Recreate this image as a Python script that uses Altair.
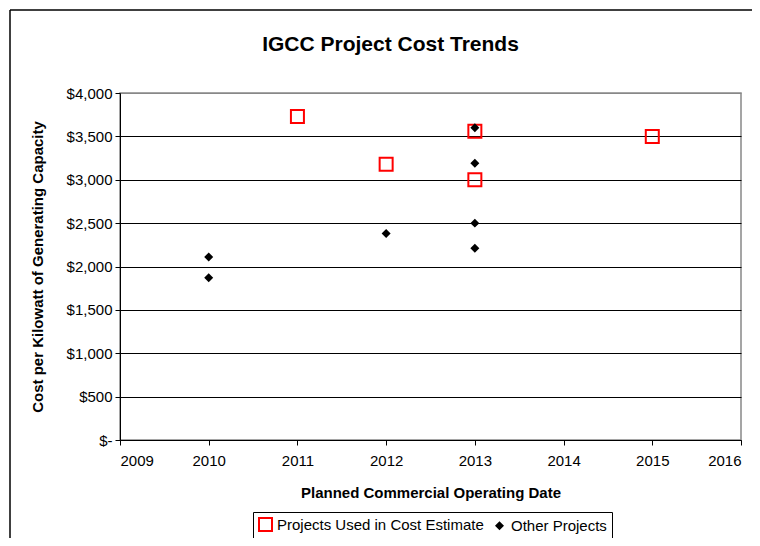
import altair as alt
import pandas as pd

# ---- data ----
used_years = [2011, 2012, 2013, 2013, 2015]
used_costs = [3730, 3180, 3560, 3000, 3500]
other_years = [2010, 2010, 2012, 2013, 2013, 2013, 2013]
other_costs = [2110, 1870, 2380, 3600, 3190, 2500, 2210]
series_names = ["Projects Used in Cost Estimate", "Other Projects"]
x_ticks = [2009, 2010, 2011, 2012, 2013, 2014, 2015, 2016]
y_ticks = [0, 500, 1000, 1500, 2000, 2500, 3000, 3500, 4000]

df = pd.DataFrame({
    "year": used_years + other_years,
    "cost": used_costs + other_costs,
    "series": [series_names[0]] * len(used_years) + [series_names[1]] * len(other_years),
})

FONT = "Liberation Sans"

points = alt.Chart(df).mark_point(filled=False, strokeWidth=2, opacity=1).encode(
    x=alt.X("year:Q",
            scale=alt.Scale(domain=[x_ticks[0], x_ticks[-1]], nice=False, zero=False),
            axis=alt.Axis(values=x_ticks, format="d", tickSize=5, labelPadding=8,
                          grid=False, domainColor="black", tickColor="black",
                          labelColor="black", labelFontSize=15, labelFont=FONT,
                          title="Planned Commercial Operating Date",
                          titleFontSize=15, titleFontWeight="bold", titleFont=FONT,
                          titleColor="black", titleY=52, titleBaseline="middle")),
    y=alt.Y("cost:Q",
            scale=alt.Scale(domain=[y_ticks[0], y_ticks[-1]], nice=False),
            axis=alt.Axis(values=y_ticks,
                          labelExpr="datum.value == 0 ? '$-' : '$' + format(datum.value, ',')",
                          tickSize=5, labelPadding=3, grid=True,
                          gridColor={"condition": {"test": "datum.value == 4000", "value": "#888888"}, "value": "black"},
                          gridWidth=1, domainColor="black", tickColor="black",
                          labelColor="black", labelFontSize=15, labelFont=FONT,
                          title="Cost per Kilowatt of Generating Capacity",
                          titleFontSize=15, titleFontWeight="bold", titleFont=FONT,
                          titleColor="black", titleX=-83, titleY=173.5,
                          titleAngle=-90, titleAlign="center", titleBaseline="middle")),
    stroke=alt.Stroke("series:N", scale=alt.Scale(domain=series_names, range=["#FF0000", "black"]),
                      legend=alt.Legend(title=None)),
    fill=alt.Fill("series:N", scale=alt.Scale(domain=series_names, range=["transparent", "black"]),
                  legend=alt.Legend(title=None)),
    shape=alt.Shape("series:N", scale=alt.Scale(domain=series_names, range=["square", "diamond"]),
                    legend=alt.Legend(title=None)),
    size=alt.Size("series:N", scale=alt.Scale(domain=series_names, range=[169, 38]),
                  legend=alt.Legend(title=None)),
)

frame_df = pd.DataFrame({"k": [0]})
frame_left = alt.Chart(frame_df).mark_rule(color="black", strokeWidth=1.5).encode(
    x=alt.value(-110), y=alt.value(-83), y2=alt.value(700))
frame_top = alt.Chart(frame_df).mark_rule(color="black", strokeWidth=1.5).encode(
    x=alt.value(-110), x2=alt.value(800), y=alt.value(-83))

chart = alt.layer(frame_left, frame_top, points).properties(
    width=621,
    height=347,
    autosize=alt.AutoSizeParams(type="none"),
    padding={"left": 112, "top": 85, "right": 11, "bottom": 98},
    title=alt.TitleParams("IGCC Project Cost Trends", fontSize=21, fontWeight="bold",
                          font=FONT, color="black", anchor="middle", frame="group",
                          dx=-40, offset=-63, baseline="alphabetic"),
).configure(
    background="white",
).configure_view(
    stroke="#888888", strokeWidth=1.5,
).configure_legend(
    orient="none", legendX=133, legendY=419, direction="horizontal",
    strokeColor="black", strokeWidth=1, fillColor="white", padding=5,
    labelFontSize=15, labelFont=FONT, labelColor="black", labelOffset=4,
    labelLimit=400, columnPadding=8, symbolStrokeWidth=2,
)

chart.save("out.html", embed_options={"renderer": "svg", "actions": False})
